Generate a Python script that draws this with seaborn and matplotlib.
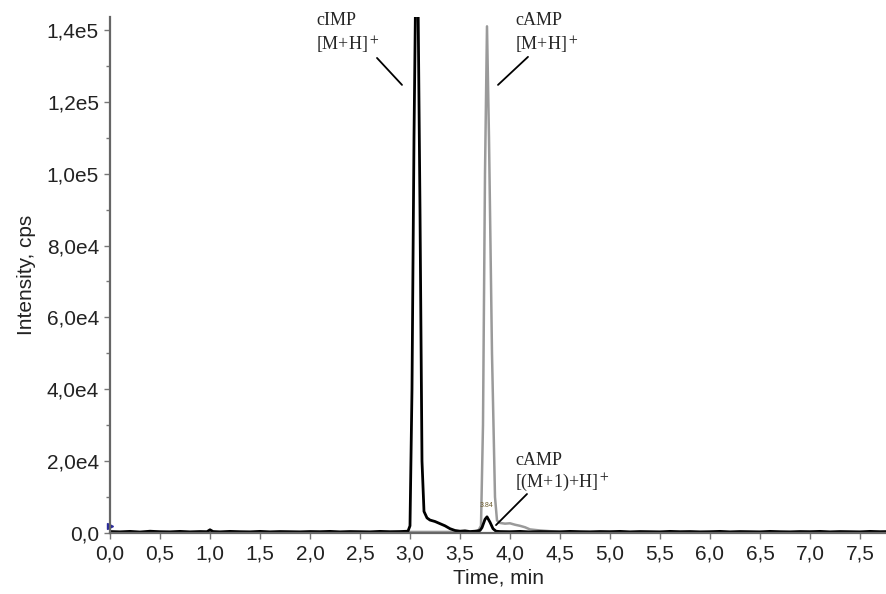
import numpy as np
import pandas as pd
import matplotlib
matplotlib.use("Agg")
import matplotlib.pyplot as plt
import seaborn as sns

# trace 1: cIMP [M+H]+ and cAMP [(M+1)+H]+ (black)
black_time = [0.0, 0.1, 0.2, 0.3, 0.4, 0.5, 0.6, 0.7, 0.8, 0.9, 0.97, 1.0, 1.03,
              1.1, 1.2, 1.3, 1.4, 1.5, 1.6, 1.7, 1.8, 1.9, 2.0, 2.1, 2.2, 2.3,
              2.4, 2.5, 2.6, 2.7, 2.8, 2.9, 2.98, 3.0, 3.02, 3.04, 3.06, 3.08,
              3.10, 3.12, 3.14, 3.17, 3.20, 3.25, 3.30, 3.35, 3.40, 3.45, 3.50,
              3.55, 3.60, 3.65, 3.70, 3.72, 3.75, 3.77, 3.80, 3.83, 3.86, 3.9,
              4.0, 4.1, 4.2, 4.3, 4.4, 4.5, 4.6, 4.7, 4.8, 4.9, 5.0, 5.1, 5.2,
              5.3, 5.4, 5.5, 5.6, 5.7, 5.8, 5.9, 6.0, 6.1, 6.2, 6.3, 6.4, 6.5,
              6.6, 6.7, 6.8, 6.9, 7.0, 7.1, 7.2, 7.3, 7.4, 7.5, 7.6, 7.7, 7.8, 7.9]
black_int = [400, 300, 450, 250, 500, 350, 300, 450, 300, 400, 350, 900, 400,
             300, 450, 350, 300, 450, 300, 400, 350, 300, 400, 350, 450, 300,
             400, 350, 300, 450, 350, 400, 500, 2000, 40000, 110000, 160000, 150000,
             90000, 20000, 6000, 4200, 3600, 3200, 2600, 2000, 1200, 700, 500,
             600, 400, 500, 700, 1500, 3800, 4500, 3000, 1200, 500, 400,
             350, 450, 300, 400, 350, 300, 450, 350, 300, 400, 350, 450, 300,
             400, 350, 300, 450, 350, 400, 300, 350, 450, 300, 400, 350, 300,
             450, 350, 300, 400, 350, 450, 300, 400, 350, 300, 450, 350, 400, 300]

# trace 2: cAMP [M+H]+ (grey)
grey_time = [0.0, 1.0, 2.0, 3.0, 3.5, 3.65, 3.68, 3.71, 3.73, 3.75, 3.77, 3.79,
             3.82, 3.85, 3.87, 3.90, 3.95, 4.0, 4.05, 4.1, 4.15, 4.2, 4.3, 4.4,
             4.5, 5.0, 6.0, 7.0, 7.9]
grey_int = [300, 300, 300, 300, 300, 350, 500, 2000, 30000, 100000, 141000, 110000,
            50000, 10000, 3500, 2800, 2600, 2700, 2300, 2000, 1600, 1000, 700, 500,
            400, 300, 300, 300, 300]

x_ticks = [0.0, 0.5, 1.0, 1.5, 2.0, 2.5, 3.0, 3.5, 4.0, 4.5, 5.0, 5.5, 6.0, 6.5, 7.0, 7.5]
x_labels = ["0,0", "0,5", "1,0", "1,5", "2,0", "2,5", "3,0", "3,5", "4,0", "4,5",
            "5,0", "5,5", "6,0", "6,5", "7,0", "7,5"]
y_ticks = [0, 20000, 40000, 60000, 80000, 100000, 120000, 140000]
y_labels = ["0,0", "2,0e4", "4,0e4", "6,0e4", "8,0e4", "1,0e5", "1,2e5", "1,4e5"]

df = pd.concat([
    pd.DataFrame({"time": grey_time, "intensity": grey_int, "trace": "cAMP"}),
    pd.DataFrame({"time": black_time, "intensity": black_int, "trace": "cIMP"}),
])

sns.set_style("ticks")
plt.rcParams["font.family"] = ["Liberation Sans", "DejaVu Sans"]
plt.rcParams["mathtext.fontset"] = "stix"

fig = plt.figure(figsize=(8.87, 5.94), dpi=100)
ax = fig.add_axes([0.124, 0.1027, 0.876, 0.8687])

sns.lineplot(data=df, x="time", y="intensity", hue="trace", estimator=None,
             sort=False, palette={"cAMP": "#9a9a9a", "cIMP": "black"},
             linewidth=1.8, legend=False, ax=ax)
ax.get_lines()[-1].set_linewidth(2.0)

ax.plot([0], [2000], marker=">", color="#2a2a9a", markersize=5, clip_on=False,
        linestyle="none")

ax.set_xlim(0, 7.77)
ax.set_ylim(0, 143600)
ax.set_xticks(x_ticks)
ax.set_xticklabels(x_labels)
ax.set_yticks(y_ticks)
ax.set_yticklabels(y_labels)
ax.set_yticks(np.arange(10000, 143600, 20000), minor=True)
ax.tick_params(axis="both", which="major", labelsize=15, length=4, width=1,
               color="#777777", labelcolor="#222222", pad=4)
ax.tick_params(axis="y", which="minor", length=3, width=1, color="#777777")
ax.set_xlabel("Time, min", fontsize=15, color="#222222", labelpad=4)
ax.set_ylabel("Intensity, cps", fontsize=15, color="#222222", labelpad=8)

sns.despine(ax=ax)
for side in ["left", "bottom"]:
    ax.spines[side].set_color("#666666")
    ax.spines[side].set_linewidth(1.6)

# labels and leader lines
serif = ["Liberation Serif", "DejaVu Serif"]
line_kw = dict(arrowstyle="-", color="black", lw=1.3, shrinkA=0, shrinkB=0)

ax.text(2.06, 145000, "cIMP\n[M+H]$^+$", fontsize=13, family=serif,
        ha="left", va="top", clip_on=False, linespacing=1.35)
ax.annotate("", xy=(2.92, 124700), xytext=(2.67, 132200),
            annotation_clip=False, arrowprops=line_kw)

ax.text(4.05, 145000, "cAMP\n[M+H]$^+$", fontsize=13, family=serif,
        ha="left", va="top", clip_on=False, linespacing=1.35)
ax.annotate("", xy=(3.88, 124700), xytext=(4.18, 132500),
            annotation_clip=False, arrowprops=line_kw)

ax.text(4.05, 22500, "cAMP\n[(M+1)+H]$^+$", fontsize=13, family=serif,
        ha="left", va="top", linespacing=1.2)
ax.annotate("", xy=(3.86, 2200), xytext=(4.17, 10850),
            annotation_clip=False, arrowprops=line_kw)

ax.text(3.77, 7600, "3.84", fontsize=5, color="#6b5a2a", ha="center", va="center")

fig.savefig("out.png", dpi=100)
